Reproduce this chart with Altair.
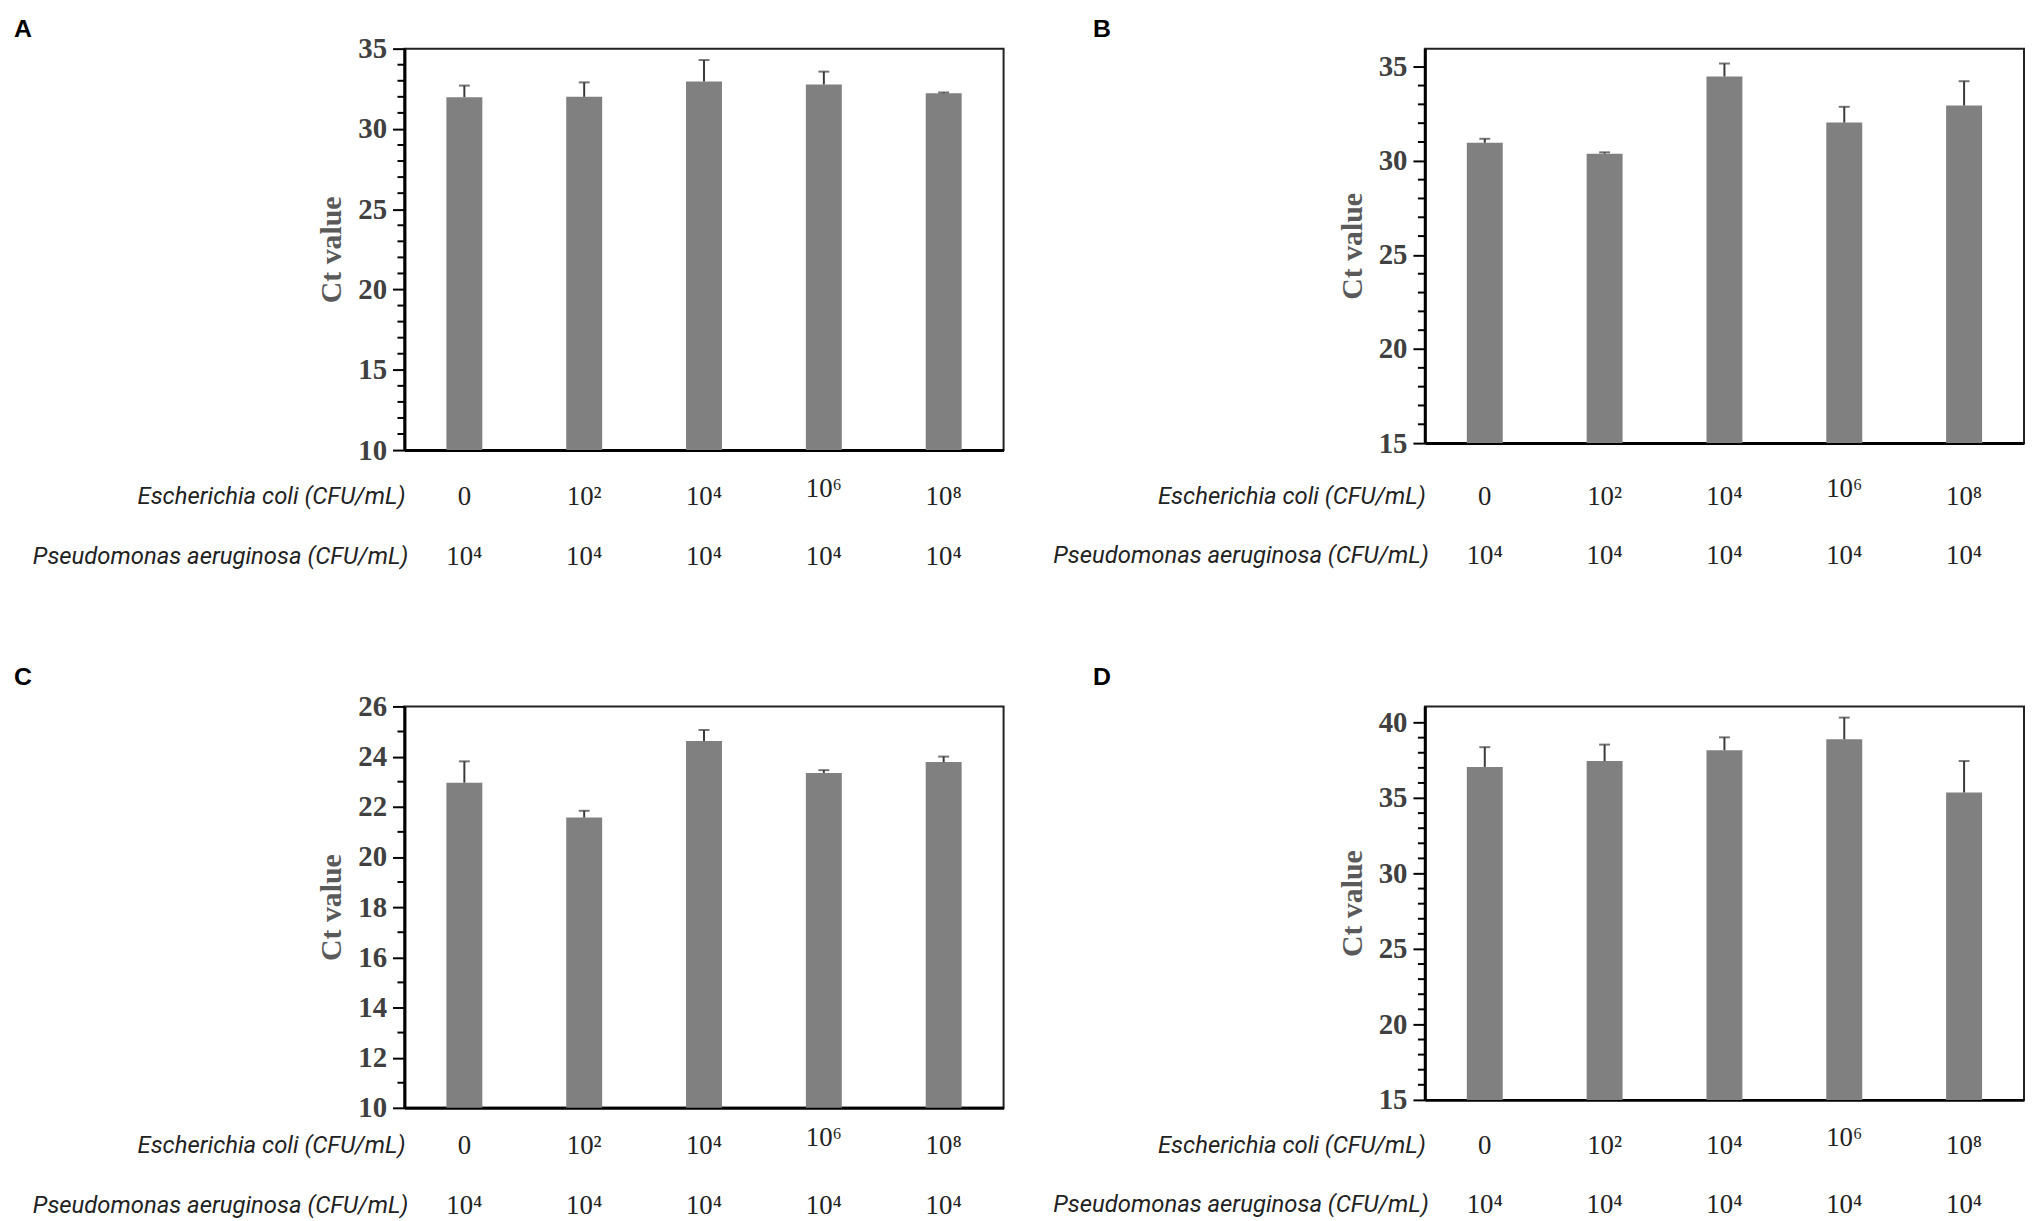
import altair as alt
import pandas as pd

categories = ["g1", "g2", "g3", "g4", "g5"]
ecoli_labels = ["0", "10²", "10⁴", "10⁶", "10⁸"]
pa_labels = ["10⁴", "10⁴", "10⁴", "10⁴", "10⁴"]
row1_header = "Escherichia coli (CFU/mL)"
row2_header = "Pseudomonas aeruginosa (CFU/mL)"

a_mean = [31.98, 32.0, 32.96, 32.77, 32.22]
a_upper = [32.7, 32.9, 34.29, 33.57, 32.27]
b_mean = [30.96, 30.38, 34.48, 32.03, 32.94]
b_upper = [31.17, 30.45, 35.17, 32.87, 34.23]
c_mean = [22.96, 21.57, 24.62, 23.35, 23.78]
c_upper = [23.81, 21.84, 25.06, 23.46, 24.0]
d_mean = [37.06, 37.45, 38.17, 38.89, 35.37]
d_upper = [38.37, 38.54, 39.02, 40.33, 37.45]

a_major = [10, 15, 20, 25, 30, 35]
b_major = [15, 20, 25, 30, 35]
c_major = [10, 12, 14, 16, 18, 20, 22, 24, 26]
d_major = [15, 20, 25, 30, 35, 40]
a_minor = [v for v in range(10, 36) if v not in a_major]
b_minor = [v for v in range(15, 36) if v not in b_major]
c_minor = [v for v in range(10, 27) if v not in c_major]
d_minor = [v for v in range(15, 41) if v not in d_major]

SERIF = "Liberation Serif"
SANS = "Roboto"


def panel(letter, mean, upper, ymin, ymax, major, minor, off1, off2, w, h, lx, ly):
    df = pd.DataFrame({"cat": categories, "mean": mean, "upper": upper,
                       "ec": ecoli_labels, "pa": pa_labels})
    base = alt.Chart(df)
    x_main = alt.X("cat:N", sort=categories,
                   scale=alt.Scale(paddingInner=0.7, paddingOuter=0.35),
                   axis=alt.Axis(labels=False, ticks=False, title=None,
                                 domainColor="black", domainWidth=3))
    x_plain = alt.X("cat:N", sort=categories)
    yscale = alt.Scale(domain=[ymin, ymax], nice=False, zero=False)
    yaxis = alt.Axis(
        title="Ct value", values=major,
        labelOverlap=False,
        tickSize=12, tickColor="black", tickWidth=2,
        domainColor="black", domainWidth=3,
        labelFont=SERIF, labelFontWeight="bold", labelFontSize=29, labelColor="#404040",
        labelPadding=6,
        titleFont=SERIF, titleFontWeight="bold", titleFontSize=30, titleColor="#5a5a5a",
        titlePadding=11, grid=False,
    )
    bars = base.mark_bar(color="#808080").encode(
        x=x_main,
        y=alt.Y("mean:Q", scale=yscale, axis=yaxis),
        y2=alt.datum(ymin),
    )
    minor_ticks = alt.Chart(pd.DataFrame({"v": minor})).mark_rule(
        color="black", strokeWidth=2).encode(
        y=alt.Y("v:Q", title="Ct value"), x=alt.value(-7), x2=alt.value(0))
    err = base.mark_rule(color="#3a3a3a", strokeWidth=2).encode(
        x=x_plain, y="mean:Q", y2="upper:Q")
    cap = base.mark_tick(color="#3a3a3a", thickness=2, size=11).encode(
        x=x_plain, y="upper:Q")
    t1 = base.transform_filter(alt.datum.ec != "10⁶").mark_text(
        font=SERIF, fontSize=27, color="#222222", baseline="middle").encode(
        x=x_plain, y=alt.value(h + off1), text="ec:N")
    t1b = base.transform_filter(alt.datum.ec == "10⁶").mark_text(
        font=SERIF, fontSize=27, color="#222222", baseline="middle", dy=-8).encode(
        x=x_plain, y=alt.value(h + off1), text="ec:N")
    t2 = base.mark_text(font=SERIF, fontSize=27, color="#222222", baseline="middle").encode(
        x=x_plain, y=alt.value(h + off2), text="pa:N")
    h1 = alt.Chart(pd.DataFrame({"t": [row1_header]})).mark_text(
        align="right", baseline="middle", font=SANS, fontStyle="italic",
        fontSize=24, color="#222222").encode(
        x=alt.value(1), y=alt.value(h + off1), text="t:N")
    h2 = alt.Chart(pd.DataFrame({"t": [row2_header]})).mark_text(
        align="right", baseline="middle", font=SANS, fontStyle="italic",
        fontSize=24, color="#222222").encode(
        x=alt.value(4), y=alt.value(h + off2), text="t:N")
    lab = alt.Chart(pd.DataFrame({"t": [letter]})).mark_text(
        align="left", baseline="middle", font="Liberation Sans", fontWeight="bold",
        fontSize=25, color="black").encode(
        x=alt.value(lx), y=alt.value(ly), text="t:N")
    return alt.layer(bars, minor_ticks, err, cap, t1, t1b, t2, h1, h2, lab).properties(width=w, height=h)


pA = panel("A", a_mean, a_upper, 10, 35, a_major, a_minor, 47, 108, 603, 404, -393, -20)
pB = panel("B", b_mean, b_upper, 15, 35.96, b_major, b_minor, 54, 114, 603, 397, -334, -20)
pC = panel("C", c_mean, c_upper, 10, 26, c_major, c_minor, 38, 99, 603, 404, -393, -30)
pD = panel("D", d_mean, d_upper, 15, 41.07, d_major, d_minor, 46, 106, 603, 396, -334, -30)

chart = alt.concat(pA, pB, pC, pD, columns=2, spacing={"row": 93, "column": 47}).properties(
    padding={"left": 5, "top": 4, "right": 0, "bottom": 0}
).configure_view(stroke="#222222", strokeWidth=2)

chart.save("out.html", embed_options={"renderer": "svg", "actions": False})
